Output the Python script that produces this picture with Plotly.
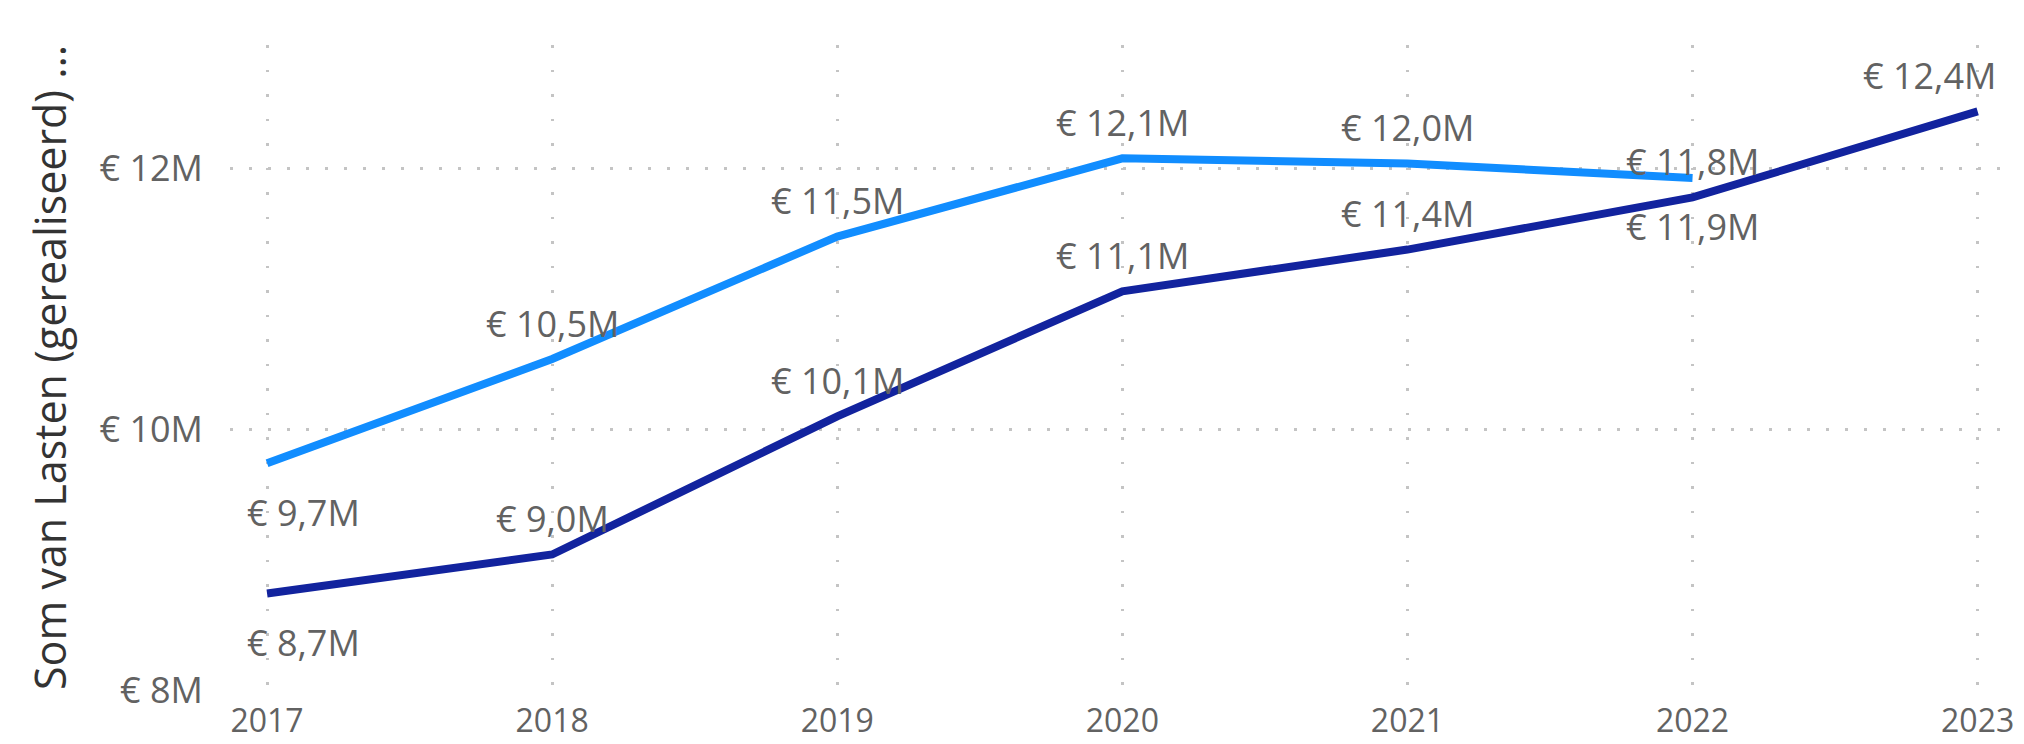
import plotly.graph_objects as go

years = [2017, 2018, 2019, 2020, 2021, 2022, 2023]
gerealiseerd_licht = [9.74, 10.54, 11.48, 12.08, 12.04, 11.93, None]
gerealiseerd_donker = [8.74, 9.04, 10.10, 11.06, 11.38, 11.78, 12.44]
# label placement per point
pos_licht = ["below", "above", "above", "above", "above", "below", None]
pos_donker = ["below", "above", "above", "above", "above", "above", "above"]

y_tickvals = [8, 10, 12]
y_ticktext = ["€ 8M", "€ 10M", "€ 12M"]
y_title = "Som van Lasten (gerealiseerd) ..."

COL_LICHT = "#118DFF"
COL_DONKER = "#12239E"
LABEL_COLOR = "#626262"
FONT = "Open Sans"


def fmt(v):
    return "€ " + f"{v:.1f}".replace(".", ",") + "M"


fig = go.Figure()
for vals, col in [(gerealiseerd_licht, COL_LICHT), (gerealiseerd_donker, COL_DONKER)]:
    xs = [x for x, v in zip(years, vals) if v is not None]
    ys = [v for v in vals if v is not None]
    fig.add_trace(go.Scatter(x=xs, y=ys, mode="lines",
                             line=dict(color=col, width=8),
                             hoverinfo="skip", showlegend=False))

annotations = []
for vals, poss in [(gerealiseerd_licht, pos_licht), (gerealiseerd_donker, pos_donker)]:
    for i, (x, v, p) in enumerate(zip(years, vals, poss)):
        if v is None:
            continue
        xanchor = "center"
        xshift = 0
        if i == 0:
            xanchor = "left"
            xshift = -22
        elif i == len(years) - 1:
            xanchor = "right"
            xshift = 20
        annotations.append(dict(
            x=x, y=v, xref="x", yref="y", text=fmt(v), showarrow=False,
            xanchor=xanchor, yanchor="middle", xshift=xshift,
            yshift=(-49 if p == "below" else 36),
            font=dict(family=FONT, size=36, color=LABEL_COLOR)))

fig.update_layout(
    width=2024, height=744,
    margin=dict(l=230, r=15, t=45, b=54, autoexpand=False),
    paper_bgcolor="white", plot_bgcolor="white",
    font=dict(family=FONT, color=LABEL_COLOR),
    annotations=annotations,
    xaxis=dict(range=[2016.87, 2023.11], tickvals=years,
               ticktext=[str(y) for y in years],
               showgrid=True, gridcolor="#c4c4c4", gridwidth=2.5,
               griddash="2.5px,22px", zeroline=False, showline=False,
               ticks="", ticklabelstandoff=9, automargin=False,
               tickfont=dict(family=FONT, size=32, color=LABEL_COLOR)),
    yaxis=dict(range=[8, 12.95], tickvals=y_tickvals, ticktext=y_ticktext,
               showgrid=True, gridcolor="#c4c4c4", gridwidth=2.5,
               griddash="2.5px,16.5px", zeroline=False, showline=False,
               ticks="", ticklabelstandoff=26, automargin=False,
               tickfont=dict(family=FONT, size=36, color=LABEL_COLOR)),
)
fig.update_yaxes(title=dict(text=y_title, standoff=19,
                            font=dict(family=FONT, size=43, color="#333333")))

fig.write_html("out.html", config={"displayModeBar": False},
               post_script="document.body.style.margin='0';")
